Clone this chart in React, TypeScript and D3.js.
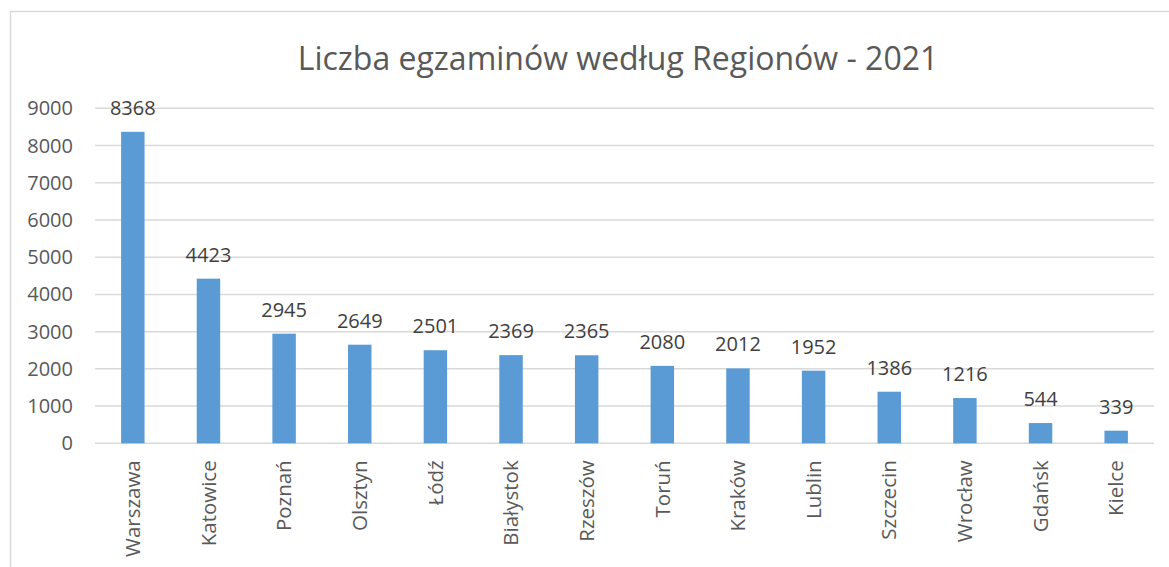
import React from "react";
import * as d3 from "d3";

const regions = ["Warszawa", "Katowice", "Poznań", "Olsztyn", "Łódź", "Białystok", "Rzeszów", "Toruń", "Kraków", "Lublin", "Szczecin", "Wrocław", "Gdańsk", "Kielce"];
const exams = [8368, 4423, 2945, 2649, 2501, 2369, 2365, 2080, 2012, 1952, 1386, 1216, 544, 339];
const yTicks = [0, 1000, 2000, 3000, 4000, 5000, 6000, 7000, 8000, 9000];

const W = 1169;
const H = 567;
const font = "'Open Sans', sans-serif";

const App = () => {
    const x = d3.scaleBand()
        .domain(regions)
        .range([95, 1154])
        .paddingInner(0.69)
        .paddingOuter(0.345);

    const y = d3.scaleLinear()
        .domain([0, 9000])
        .range([443.3, 108.3]);

    return (
        <svg width={W} height={H} style={{ position: "absolute", left: 0, top: 0 }}>
            <rect x={0} y={0} width={W} height={H} fill="white" />
            {/* chart frame, cut off at right and bottom */}
            <rect x={10.5} y={11.5} width={W + 20} height={H + 20} fill="none" stroke="#d9d9d9" strokeWidth={1.5} />

            <text x={618} y={70} textAnchor="middle" fontFamily={font} fontSize={32} fill="#595959">
                Liczba egzaminów według Regionów - 2021
            </text>

            {yTicks.map(t => (
                <g key={t}>
                    <line x1={95} x2={1154} y1={y(t)} y2={y(t)} stroke="#d9d9d9" strokeWidth={1.5} />
                    <text x={73} y={y(t)} dy="0.35em" textAnchor="end" fontFamily={font} fontSize={20} fill="#595959">
                        {t}
                    </text>
                </g>
            ))}

            {regions.map((r, i) => (
                <g key={r}>
                    <rect x={x(r)} y={y(exams[i])} width={x.bandwidth()} height={y(0) - y(exams[i])} fill="#5b9bd5" />
                    <text x={x(r)! + x.bandwidth() / 2} y={y(exams[i]) - 17} textAnchor="middle" fontFamily={font} fontSize={20} fill="#404040">
                        {exams[i]}
                    </text>
                    <text
                        transform={`translate(${x(r)! + x.bandwidth() / 2},${y(0) + 17}) rotate(-90)`}
                        dy="0.35em"
                        textAnchor="end"
                        fontFamily={font}
                        fontSize={20.5}
                        fill="#595959"
                    >
                        {r}
                    </text>
                </g>
            ))}
        </svg>
    );
};

export default App;
